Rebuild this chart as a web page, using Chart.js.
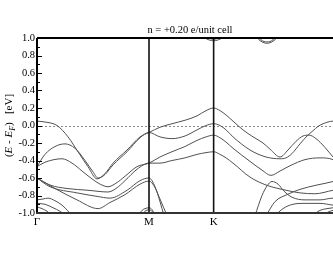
<!DOCTYPE html>
<html>
<head>
<meta charset="utf-8">
<script src="https://cdn.jsdelivr.net/npm/chart.js@4.4.1/dist/chart.umd.min.js"></script>
<style>
html, body { margin: 0; padding: 0; overflow: hidden; background: #fff; }
#wrap { width: 350px; height: 258px; }
</style>
</head>
<body>
<div id="wrap"><canvas id="bands"></canvas></div>
<script>
// high-symmetry path, in units of |Gamma-M|
const kLabels = ['Γ', 'M', 'K', 'Γ'];
const kTicks = [0, 1, 1.577, 2.732];
const eTicks = [-1, -0.8, -0.6, -0.4, -0.2, 0, 0.2, 0.4, 0.6, 0.8, 1];
const titleText = 'n = +0.20 e/unit cell';

// bands: [k, E - E_F (eV)]
const band1 = [[0,0.05],[0.071,0.04],[0.179,0],[0.277,-0.13],[0.366,-0.30],[0.455,-0.47],[0.536,-0.61],[0.607,-0.55],[0.679,-0.43],[0.804,-0.28],[0.92,-0.13],[1,-0.08],[1.098,-0.02],[1.205,0.02],[1.321,0.06],[1.429,0.11],[1.509,0.17],[1.577,0.20],[1.634,0.17],[1.688,0.12],[1.75,0.05],[1.839,-0.05],[1.929,-0.13],[2.018,-0.20],[2.08,-0.27],[2.17,-0.36],[2.241,-0.28],[2.313,-0.18],[2.375,-0.12],[2.429,-0.11],[2.491,-0.15],[2.571,-0.25],[2.643,-0.36],[2.732,-0.47]];
const band2 = [[0,-0.47],[0.071,-0.33],[0.161,-0.24],[0.25,-0.21],[0.339,-0.26],[0.429,-0.40],[0.5,-0.53],[0.545,-0.60],[0.607,-0.56],[0.679,-0.45],[0.804,-0.30],[0.92,-0.14],[1,-0.08],[1.098,-0.13],[1.205,-0.15],[1.321,-0.12],[1.429,-0.05],[1.509,0],[1.577,0.02],[1.634,0],[1.688,-0.05],[1.75,-0.13],[1.902,-0.28],[2.045,-0.36],[2.17,-0.38],[2.223,-0.37],[2.277,-0.32],[2.348,-0.21],[2.411,-0.12],[2.464,-0.06],[2.509,-0.01],[2.554,0.02],[2.598,0.04],[2.643,0.05],[2.732,0.05]];
const band3 = [[0,-0.47],[0.071,-0.42],[0.152,-0.39],[0.223,-0.38],[0.313,-0.43],[0.402,-0.52],[0.491,-0.61],[0.563,-0.67],[0.634,-0.70],[0.705,-0.66],[0.786,-0.58],[0.893,-0.47],[1,-0.43],[1.098,-0.36],[1.205,-0.30],[1.321,-0.24],[1.429,-0.17],[1.509,-0.13],[1.577,-0.11],[1.634,-0.14],[1.688,-0.19],[1.75,-0.26],[1.902,-0.41],[2.009,-0.51],[2.089,-0.57],[2.17,-0.52],[2.259,-0.46],[2.393,-0.39],[2.527,-0.37],[2.643,-0.39],[2.732,-0.47]];
const band4 = [[0,-0.60],[0.116,-0.68],[0.268,-0.72],[0.455,-0.74],[0.634,-0.76],[0.705,-0.72],[0.786,-0.63],[0.893,-0.50],[1,-0.43],[1.098,-0.43],[1.205,-0.40],[1.321,-0.37],[1.429,-0.33],[1.509,-0.31],[1.577,-0.30],[1.634,-0.33],[1.688,-0.37],[1.75,-0.43],[1.902,-0.59],[2.045,-0.68],[2.223,-0.74],[2.348,-0.77],[2.482,-0.78],[2.643,-0.74],[2.732,-0.72]];
const band5 = [[0,-0.60],[0.116,-0.70],[0.357,-0.77],[0.536,-0.81],[0.652,-0.83],[0.804,-0.74],[0.92,-0.63],[1,-0.60],[1.054,-0.70],[1.098,-0.87],[1.134,-1.03]];
const band6 = [[0,-0.60],[0.161,-0.72],[0.357,-0.85],[0.545,-0.95],[0.652,-0.88],[0.786,-0.79],[0.92,-0.67],[1,-0.635],[1.045,-0.69],[1.098,-0.84],[1.161,-1.03]];
const gamma1 = [[0,-0.85],[0.054,-0.84],[0.098,-0.83],[0.161,-0.86],[0.232,-0.92],[0.313,-1.03]];
const gamma2 = [[0,-0.89],[0.071,-0.90],[0.143,-0.94],[0.205,-0.98],[0.259,-1.03]];
const gamma3 = [[0,-0.93],[0.045,-0.95],[0.089,-0.98],[0.134,-1.03]];
const mArc1 = [[0.902,-1.03],[0.938,-0.97],[0.964,-0.95],[1,-0.94],[1.027,-0.96],[1.054,-1.03]];
const mArc2 = [[0.938,-1.03],[0.964,-0.98],[1,-0.965],[1.027,-0.98],[1.045,-1.03]];
const kArc1 = [[1.473,1.03],[1.5,1.0],[1.536,0.978],[1.577,0.968],[1.616,0.978],[1.652,1.0],[1.679,1.03]];
const kArc2 = [[1.509,1.03],[1.545,0.995],[1.577,0.985],[1.607,0.995],[1.643,1.03]];
const upArc1 = [[1.946,1.03],[1.982,0.98],[2.018,0.95],[2.054,0.94],[2.089,0.95],[2.125,0.98],[2.161,1.03]];
const upArc2 = [[1.964,1.03],[2.0,0.98],[2.027,0.96],[2.054,0.955],[2.08,0.96],[2.107,0.98],[2.143,1.03]];
const low1 = [[1.946,-1.03],[2.009,-0.80],[2.054,-0.69],[2.098,-0.64],[2.152,-0.67],[2.205,-0.75],[2.277,-0.82],[2.393,-0.85],[2.527,-0.85],[2.643,-0.83],[2.732,-0.83]];
const low2 = [[2.045,-1.03],[2.125,-0.87],[2.232,-0.79],[2.348,-0.73],[2.5,-0.68],[2.643,-0.64],[2.732,-0.60]];
const low3 = [[2.125,-1.03],[2.196,-0.95],[2.286,-0.90],[2.393,-0.89],[2.527,-0.89],[2.643,-0.91],[2.732,-0.92]];
const low4 = [[2.455,-1.03],[2.527,-0.97],[2.589,-0.95],[2.643,-0.94],[2.732,-0.93]];
const low5 = [[2.545,-1.03],[2.598,-0.99],[2.643,-0.97],[2.732,-0.96]];

const allBands = [band1, band2, band3, band4, band5, band6, gamma1, gamma2, gamma3,
  mArc1, mArc2, kArc1, kArc2, upArc1, upArc2, low1, low2, low3, low4, low5];

const serif = "'Liberation Serif', 'DejaVu Serif', serif";

const decor = {
  id: 'decor',
  beforeDatasetsDraw(chart) {
    const {ctx, chartArea: a, scales: {y}} = chart;
    const y0 = Math.round(y.getPixelForValue(0)) + 0.5;
    ctx.save();
    ctx.strokeStyle = '#8c8c8c';
    ctx.lineWidth = 1;
    ctx.setLineDash([2, 2]);
    ctx.beginPath();
    ctx.moveTo(a.left, y0);
    ctx.lineTo(a.right, y0);
    ctx.stroke();
    ctx.restore();
  },
  afterDatasetsDraw(chart) {
    const {ctx, chartArea: a, scales: {x, y}} = chart;
    ctx.save();
    // vertical lines at M and K
    ctx.strokeStyle = '#111';
    ctx.lineWidth = 1.6;
    [kTicks[1], kTicks[2]].forEach(k => {
      const px = x.getPixelForValue(k);
      ctx.beginPath();
      ctx.moveTo(px, a.top);
      ctx.lineTo(px, a.bottom);
      ctx.stroke();
    });
    // inward ticks on the energy axis
    ctx.strokeStyle = '#000';
    ctx.lineWidth = 1;
    for (let i = 0; i <= 20; i++) {
      const v = -1 + i * 0.1;
      const py = Math.round(y.getPixelForValue(v)) + 0.5;
      const len = i % 2 === 0 ? 5 : 3;
      ctx.beginPath();
      ctx.moveTo(a.left, py);
      ctx.lineTo(a.left + len, py);
      ctx.stroke();
    }
    // frame
    ctx.lineWidth = 2;
    ctx.strokeStyle = '#000';
    ctx.beginPath();
    ctx.moveTo(a.left, a.top);
    ctx.lineTo(a.right, a.top);
    ctx.moveTo(a.left, a.top);
    ctx.lineTo(a.left, a.bottom);
    ctx.stroke();
    ctx.strokeStyle = '#333';
    ctx.beginPath();
    ctx.moveTo(a.left - 1, a.bottom);
    ctx.lineTo(a.right, a.bottom);
    ctx.stroke();
    // title
    ctx.fillStyle = '#000';
    ctx.font = '10.5px ' + serif;
    ctx.textAlign = 'center';
    ctx.textBaseline = 'alphabetic';
    ctx.fillText(titleText, (a.left + a.right) / 2, a.top - 5);
    // y axis title: (E - E_F)  [eV]
    const parts = [
      {t: '(', f: '11px ' + serif, dy: 0},
      {t: 'E', f: 'italic 11px ' + serif, dy: 0},
      {t: ' - ', f: '11px ' + serif, dy: 0},
      {t: 'E', f: 'italic 11px ' + serif, dy: 0},
      {t: 'F', f: 'italic 8px ' + serif, dy: 3},
      {t: ')', f: '11px ' + serif, dy: 0},
      {t: '   [eV]', f: '11px ' + serif, dy: 0}
    ];
    let total = 0;
    parts.forEach(p => { ctx.font = p.f; p.w = ctx.measureText(p.t).width; total += p.w; });
    ctx.translate(11.5, (a.top + a.bottom) / 2);
    ctx.rotate(-Math.PI / 2);
    ctx.textAlign = 'left';
    let cx = -total / 2;
    parts.forEach(p => {
      ctx.font = p.f;
      ctx.fillText(p.t, cx, p.dy);
      cx += p.w;
    });
    ctx.restore();
  }
};

const datasets = allBands.map(b => ({
  data: b.map(([k, e]) => ({x: k, y: e})),
  borderColor: '#505050',
  borderWidth: 1,
  pointRadius: 0,
  fill: false,
  cubicInterpolationMode: 'monotone'
}));

new Chart(document.getElementById('bands'), {
  type: 'line',
  data: {datasets: datasets},
  options: {
    responsive: true,
    maintainAspectRatio: false,
    animation: false,
    layout: {padding: {top: 38, right: 7, left: 0, bottom: 0}},
    plugins: {legend: {display: false}, tooltip: {enabled: false}},
    scales: {
      x: {
        type: 'linear',
        min: kTicks[0],
        max: kTicks[kTicks.length - 1],
        afterBuildTicks: s => { s.ticks = kTicks.map(v => ({value: v})); },
        afterFit: s => { s.height = 45; },
        grid: {display: false, drawTicks: false},
        border: {display: false},
        ticks: {
          autoSkip: false,
          maxRotation: 0,
          padding: 3,
          color: '#000',
          font: {family: serif, size: 11},
          callback: v => kLabels[kTicks.indexOf(v)]
        }
      },
      y: {
        min: -1,
        max: 1,
        afterBuildTicks: s => { s.ticks = eTicks.map(v => ({value: v})); },
        afterFit: s => { s.width = 37; },
        grid: {display: false, drawTicks: false},
        border: {display: false},
        ticks: {
          padding: 2,
          color: '#000',
          font: {family: serif, size: 10.5},
          callback: v => v.toFixed(1)
        }
      }
    }
  },
  plugins: [decor]
});
</script>
</body>
</html>
